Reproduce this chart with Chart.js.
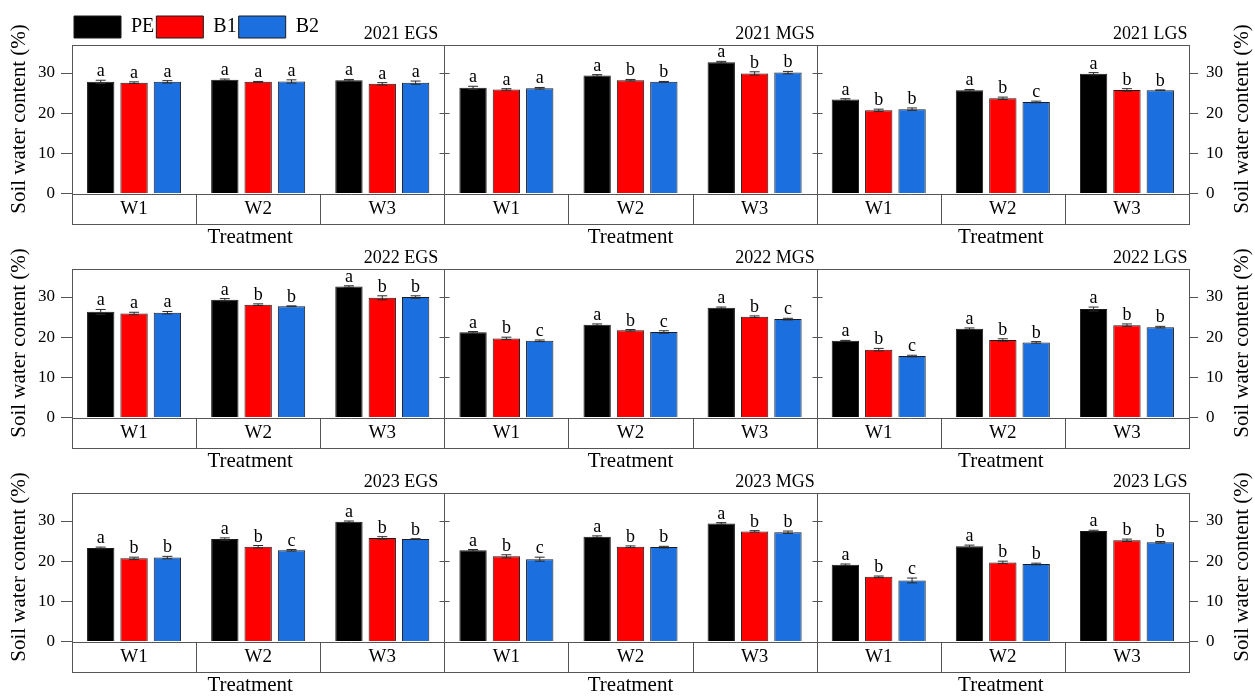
<!DOCTYPE html>
<html>
<head>
<meta charset="utf-8">
<title>Soil water content</title>
<script src="https://cdn.jsdelivr.net/npm/chart.js@4.4.1/dist/chart.umd.min.js"></script>
<style>
  html, body { margin: 0; padding: 0; background: #fff; width: 1255px; height: 698px; overflow: hidden; }
  canvas { position: absolute; left: 0; }
</style>
</head>
<body>
<canvas id="row2021" width="1255" height="250" style="top:0px"></canvas>
<canvas id="row2022" width="1255" height="250" style="top:224px"></canvas>
<canvas id="row2023" width="1255" height="250" style="top:448px"></canvas>
<script>
// ---- data ---------------------------------------------------------------
const treatments = ['W1', 'W2', 'W3'];
const stages = ['EGS', 'MGS', 'LGS'];
const years = ['2021', '2022', '2023'];
const seriesNames = ['PE', 'B1', 'B2'];
const yTickLabels = [0, 10, 20, 30];

// Means (%), ordered EGS W1-W3, MGS W1-W3, LGS W1-W3
const pe2021 = [27.8, 28.3, 28.2, 26.3, 29.4, 32.7, 23.4, 25.7, 29.8];
const b1_2021 = [27.6, 27.8, 27.3, 25.9, 28.2, 29.9, 20.7, 23.7, 25.8];
const b2_2021 = [27.8, 27.9, 27.6, 26.2, 27.8, 30.1, 21.0, 22.8, 25.7];
const pe2022 = [26.3, 29.3, 32.6, 21.2, 23.1, 27.3, 19.1, 22.1, 27.0];
const b1_2022 = [25.9, 28.1, 29.8, 19.7, 21.7, 25.1, 16.9, 19.3, 23.0];
const b2_2022 = [26.1, 27.7, 30.0, 19.1, 21.3, 24.5, 15.3, 18.7, 22.5];
const pe2023 = [23.3, 25.5, 29.8, 22.7, 26.1, 29.4, 19.1, 23.7, 27.5];
const b1_2023 = [20.7, 23.6, 25.8, 21.2, 23.6, 27.4, 16.1, 19.7, 25.2];
const b2_2023 = [20.9, 22.7, 25.5, 20.5, 23.5, 27.2, 15.2, 19.3, 24.7];

// Standard errors, same order
const sePe2021 = [0.4, 0.2, 0.2, 0.4, 0.2, 0.2, 0.2, 0.2, 0.3];
const seB1_2021 = [0.2, 0.1, 0.3, 0.2, 0.2, 0.4, 0.3, 0.3, 0.3];
const seB2_2021 = [0.3, 0.4, 0.4, 0.2, 0.1, 0.3, 0.3, 0.2, 0.1];
const sePe2022 = [0.6, 0.3, 0.2, 0.2, 0.2, 0.2, 0.1, 0.2, 0.5];
const seB1_2022 = [0.3, 0.2, 0.5, 0.3, 0.2, 0.2, 0.3, 0.3, 0.3];
const seB2_2022 = [0.3, 0.1, 0.3, 0.2, 0.3, 0.2, 0.2, 0.2, 0.2];
const sePe2023 = [0.2, 0.3, 0.2, 0.2, 0.2, 0.2, 0.2, 0.3, 0.2];
const seB1_2023 = [0.3, 0.3, 0.3, 0.4, 0.2, 0.2, 0.2, 0.3, 0.3];
const seB2_2023 = [0.3, 0.2, 0.1, 0.5, 0.2, 0.3, 0.6, 0.2, 0.2];

// Significance letters, same order
const ltPe2021 = ['a', 'a', 'a', 'a', 'a', 'a', 'a', 'a', 'a'];
const ltB1_2021 = ['a', 'a', 'a', 'a', 'b', 'b', 'b', 'b', 'b'];
const ltB2_2021 = ['a', 'a', 'a', 'a', 'b', 'b', 'b', 'c', 'b'];
const ltPe2022 = ['a', 'a', 'a', 'a', 'a', 'a', 'a', 'a', 'a'];
const ltB1_2022 = ['a', 'b', 'b', 'b', 'b', 'b', 'b', 'b', 'b'];
const ltB2_2022 = ['a', 'b', 'b', 'c', 'c', 'c', 'c', 'b', 'b'];
const ltPe2023 = ['a', 'a', 'a', 'a', 'a', 'a', 'a', 'a', 'a'];
const ltB1_2023 = ['b', 'b', 'b', 'b', 'b', 'b', 'b', 'b', 'b'];
const ltB2_2023 = ['b', 'c', 'b', 'c', 'b', 'b', 'c', 'b', 'b'];

// ---- styling --------------------------------------------------------------
const FONT = "'Liberation Serif', 'Times New Roman', Times, serif";
const seriesColors = ['#000000', '#ff0000', '#1b6fdf'];
const frameColor = '#555555';
const yTitle = 'Soil water content (%)';
const titleInset = [6, 2, 1.5];      // right inset of each stage title
const treatShift = [-8, 0, -2];      // horizontal nudge of each "Treatment" label

const rows = [
  { id: 'row2021', year: years[0], series: [pe2021, b1_2021, b2_2021], se: [sePe2021, seB1_2021, seB2_2021], lt: [ltPe2021, ltB1_2021, ltB2_2021], legend: true },
  { id: 'row2022', year: years[1], series: [pe2022, b1_2022, b2_2022], se: [sePe2022, seB1_2022, seB2_2022], lt: [ltPe2022, ltB1_2022, ltB2_2022], legend: false },
  { id: 'row2023', year: years[2], series: [pe2023, b1_2023, b2_2023], se: [sePe2023, seB1_2023, seB2_2023], lt: [ltPe2023, ltB1_2023, ltB2_2023], legend: false }
];

function crisp(v) { return Math.round(v) + 0.5; }
function seg(ctx, x1, y1, x2, y2) { ctx.beginPath(); ctx.moveTo(x1, y1); ctx.lineTo(x2, y2); ctx.stroke(); }

// Error bars and letters above every bar
const barAnnotations = {
  id: 'barAnnotations',
  afterDatasetsDraw(chart) {
    const { ctx } = chart;
    const y = chart.scales.y;
    ctx.save();
    chart.data.datasets.forEach((ds, di) => {
      const meta = chart.getDatasetMeta(di);
      meta.data.forEach((bar, i) => {
        const v = ds.data[i], s = ds.se[i];
        const hi = y.getPixelForValue(v + s), lo = y.getPixelForValue(v - s);
        ctx.strokeStyle = '#2a2a2a';
        ctx.lineWidth = 1;
        seg(ctx, bar.x, lo, bar.x, hi);
        seg(ctx, bar.x - 5, hi, bar.x + 5, hi);
        seg(ctx, bar.x - 5, lo, bar.x + 5, lo);
        ctx.fillStyle = '#000';
        ctx.font = '18px ' + FONT;
        ctx.textAlign = 'center';
        ctx.textBaseline = 'alphabetic';
        ctx.fillText(ds.letters[i], bar.x, hi - 4);
      });
    });
    ctx.restore();
  }
};

// Panel frames, category boxes, separator ticks, stage titles and axis captions
const panelFrame = {
  id: 'panelFrame',
  afterDraw(chart, args, opts) {
    const { ctx, chartArea: a } = chart;
    const x = chart.scales.x, y = chart.scales.y, y2 = chart.scales.y2;
    const n = x.getLabels().length;
    const half = (x.getPixelForValue(1) - x.getPixelForValue(0)) / 2;
    const edge = i => x.getPixelForValue(i) - half;   // left edge of category i
    const boxBottom = a.bottom + opts.boxHeight;
    ctx.save();
    ctx.strokeStyle = frameColor;
    ctx.lineWidth = 1;
    const L = crisp(a.left), R = crisp(a.right), T = crisp(a.top), Z = crisp(a.bottom), B = crisp(boxBottom);
    ctx.strokeRect(L, T, R - L, B - T);
    seg(ctx, L, Z, R, Z);
    for (let i = 1; i < n; i++) {
      const bx = crisp(edge(i));
      if (i % treatments.length === 0) {
        seg(ctx, bx, T, bx, B);
        y.ticks.forEach(t => {
          const py = crisp(y.getPixelForValue(t.value));
          seg(ctx, bx - 5, py, bx + 5, py);
        });
      } else {
        seg(ctx, bx, Z, bx, B);
      }
    }
    ctx.fillStyle = '#000';
    for (let p = 0; p < stages.length; p++) {
      const left = edge(p * treatments.length);
      const right = edge((p + 1) * treatments.length);
      ctx.font = '18px ' + FONT;
      ctx.textAlign = 'right';
      ctx.textBaseline = 'alphabetic';
      ctx.fillText(opts.year + ' ' + stages[p], right - titleInset[p], a.top - 5.5);
      ctx.font = '21px ' + FONT;
      ctx.textAlign = 'center';
      ctx.textBaseline = 'middle';
      ctx.fillText('Treatment', (left + right) / 2 + treatShift[p], a.bottom + 44);
    }
    // right-hand axis caption, reading upwards like the left one
    ctx.font = '21px ' + FONT;
    ctx.textAlign = 'center';
    ctx.textBaseline = 'middle';
    ctx.translate(y2.right - 12.5, (a.top + a.bottom) / 2);
    ctx.rotate(-Math.PI / 2);
    ctx.fillText(yTitle, 0, 0);
    ctx.restore();
  }
};

function yAxis(position, width) {
  return {
    position: position,
    min: 0,
    max: 37.1,
    afterFit(scale) { scale.width = width; },
    ticks: {
      stepSize: 5,
      includeBounds: false,
      color: '#000',
      padding: position === 'left' ? 6 : 8,
      font: { family: FONT, size: 17 },
      callback: v => yTickLabels.includes(v) ? String(v) : ''
    },
    grid: { drawOnChartArea: false, drawTicks: true, tickLength: position === 'left' ? 11 : 9, color: frameColor, lineWidth: 1 },
    border: { display: false },
    title: { display: position === 'left', text: yTitle, color: '#000', font: { family: FONT, size: 21 }, padding: { top: 7, bottom: 0 } }
  };
}

rows.forEach(row => {
  const labels = [];
  stages.forEach(() => treatments.forEach(t => labels.push(t)));
  const datasets = seriesNames.map((name, k) => ({
    label: name,
    data: row.series[k],
    se: row.se[k],
    letters: row.lt[k],
    backgroundColor: seriesColors[k],
    borderColor: '#1a1a1a',
    borderWidth: 1,
    categoryPercentage: 0.806,
    barPercentage: 0.82,
    yAxisID: 'y'
  }));
  new Chart(document.getElementById(row.id), {
    type: 'bar',
    data: { labels: labels, datasets: datasets },
    plugins: [barAnnotations, panelFrame],
    options: {
      responsive: false,
      animation: false,
      devicePixelRatio: 1,
      events: [],
      layout: { padding: { top: row.legend ? 14 : 44.5, left: 0, right: 0, bottom: 0 } },
      scales: {
        x: {
          type: 'category',
          offset: true,
          afterFit(scale) { scale.height = 56.5; },
          grid: { display: false, drawTicks: false },
          border: { display: false },
          ticks: { color: '#000', padding: 4, autoSkip: false, maxRotation: 0, font: { family: FONT, size: 19 } }
        },
        y: yAxis('left', 72),
        y2: yAxis('right', 66)
      },
      plugins: {
        tooltip: { enabled: false },
        title: { display: false },
        legend: {
          display: row.legend,
          position: 'top',
          align: 'start',
          fullSize: false,
          maxHeight: 30.5,
          labels: { boxWidth: 47, boxHeight: 22, padding: 2, color: '#000', font: { family: FONT, size: 20 } }
        },
        panelFrame: { boxHeight: 30, year: row.year }
      }
    }
  });
});
</script>
</body>
</html>
